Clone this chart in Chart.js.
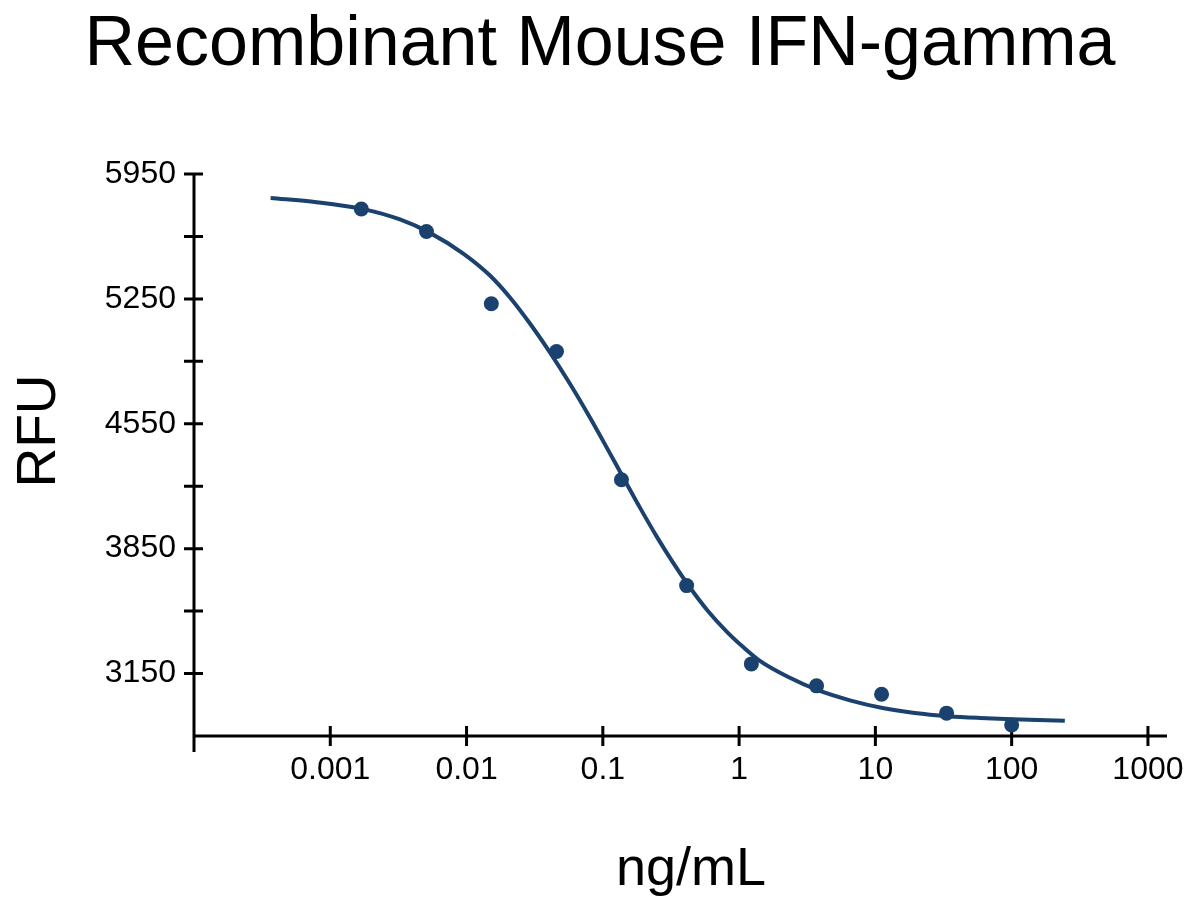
<!DOCTYPE html>
<html>
<head>
<meta charset="utf-8">
<title>Recombinant Mouse IFN-gamma</title>
<script src="https://cdn.jsdelivr.net/npm/chart.js@4/dist/chart.umd.min.js"></script>
<style>
  html, body { margin: 0; padding: 0; background: #fff; }
  canvas { display: block; }
</style>
</head>
<body>
<canvas id="ifnChart" width="1200" height="912"></canvas>
<script>
// text
const titleText = 'Recombinant Mouse IFN-gamma';
const xTitle = 'ng/mL';
const yTitle = 'RFU';

// axis ticks
const xTickValues = [0.001, 0.01, 0.1, 1, 10, 100, 1000];
const xTickLabels = ['0.001', '0.01', '0.1', '1', '10', '100', '1000'];
const yTickValues = [3150, 3500, 3850, 4200, 4550, 4900, 5250, 5600, 5950];
const yTickLabels = ['3150', '', '3850', '', '4550', '', '5250', '', '5950'];

// measured points (3-fold dilutions)
const doseX = [0.00169, 0.00508, 0.0152, 0.0457, 0.137, 0.412, 1.23, 3.70, 11.1, 33.3, 100];
const rfuY = [5754, 5628, 5223, 4955, 4236, 3643, 3204, 3081, 3034, 2928, 2862];

// fitted curve
const fitX = [0.000365, 0.000795, 0.001746, 0.003246, 0.005389, 0.009458, 0.01485, 0.02082,
              0.02918, 0.04091, 0.05736, 0.08039, 0.1071, 0.1428, 0.1872, 0.2481, 0.3267,
              0.4305, 0.5903, 0.8139, 1.066, 1.421, 2.359, 3.741, 6.501, 11.29, 19.49,
              34.2, 58.45, 100.9, 245.5];
const fitY = [5815, 5792, 5753, 5695, 5620, 5504, 5381, 5258,
              5112, 4950, 4774, 4585, 4415, 4242, 4080, 3919, 3773,
              3638, 3501, 3384, 3300, 3221, 3126, 3058, 3000, 2957, 2929,
              2911, 2901, 2894, 2886];

const navy = '#1b416e';
const fontFamily = '"Liberation Sans", Arial, Helvetica, sans-serif';

// axis lines with ticks crossing the axis, plus titles
const axesAndLabels = {
  id: 'axesAndLabels',
  beforeDatasetsDraw(chart) {
    const { ctx, chartArea: a, scales: { x, y } } = chart;
    ctx.save();
    ctx.strokeStyle = '#000';
    ctx.lineWidth = 3;
    ctx.beginPath();
    ctx.moveTo(a.left, a.top);
    ctx.lineTo(a.left, a.bottom + 16);
    ctx.moveTo(a.left, a.bottom);
    ctx.lineTo(a.right, a.bottom);
    x.ticks.forEach(t => {
      const px = x.getPixelForValue(t.value);
      ctx.moveTo(px, a.bottom - 10);
      ctx.lineTo(px, a.bottom + 10);
    });
    y.ticks.forEach(t => {
      const py = y.getPixelForValue(t.value);
      ctx.moveTo(a.left - 10, py);
      ctx.lineTo(a.left + 9, py);
    });
    ctx.stroke();

    ctx.fillStyle = '#000';
    ctx.textAlign = 'center';
    ctx.textBaseline = 'alphabetic';
    ctx.font = '70px ' + fontFamily;
    ctx.fillText(titleText, chart.width / 2, 65);
    ctx.font = '54px ' + fontFamily;
    ctx.fillText(xTitle, 691, 885);
    ctx.translate(55, 431);
    ctx.rotate(-Math.PI / 2);
    ctx.font = '55px ' + fontFamily;
    ctx.fillText(yTitle, 0, 0);
    ctx.restore();
  }
};

const ctx = document.getElementById('ifnChart').getContext('2d');
new Chart(ctx, {
  type: 'scatter',
  data: {
    datasets: [
      {
        label: 'Fit',
        data: fitX.map((v, i) => ({ x: v, y: fitY[i] })),
        showLine: true,
        borderColor: navy,
        borderWidth: 4,
        pointRadius: 0,
        cubicInterpolationMode: 'monotone',
        fill: false,
        clip: false,
        order: 2
      },
      {
        label: 'RFU',
        data: doseX.map((v, i) => ({ x: v, y: rfuY[i] })),
        backgroundColor: navy,
        borderWidth: 0,
        pointRadius: 7.5,
        clip: false,
        order: 1
      }
    ]
  },
  options: {
    responsive: false,
    animation: false,
    layout: { padding: { top: 174, right: 33, bottom: 0, left: 0 } },
    scales: {
      x: {
        type: 'logarithmic',
        position: 'bottom',
        min: 0.0001,
        max: 1380,
        grid: { display: false, drawTicks: false },
        border: { display: false },
        afterBuildTicks: s => { s.ticks = xTickValues.map(v => ({ value: v })); },
        afterFit: s => { s.height = 176; },
        ticks: {
          autoSkip: false,
          maxRotation: 0,
          padding: 15,
          color: '#000',
          font: { family: fontFamily, size: 32 },
          callback: v => xTickLabels[xTickValues.indexOf(v)]
        }
      },
      y: {
        type: 'linear',
        min: 2800,
        max: 5950,
        grid: { display: false, drawTicks: false },
        border: { display: false },
        afterBuildTicks: s => { s.ticks = yTickValues.map(v => ({ value: v })); },
        afterFit: s => { s.width = 194; },
        ticks: {
          autoSkip: false,
          padding: 18,
          color: '#000',
          font: { family: fontFamily, size: 32 },
          callback: v => yTickLabels[yTickValues.indexOf(v)]
        }
      }
    },
    plugins: {
      legend: { display: false },
      tooltip: { enabled: false },
      title: { display: false }
    }
  },
  plugins: [axesAndLabels]
});
</script>
</body>
</html>
